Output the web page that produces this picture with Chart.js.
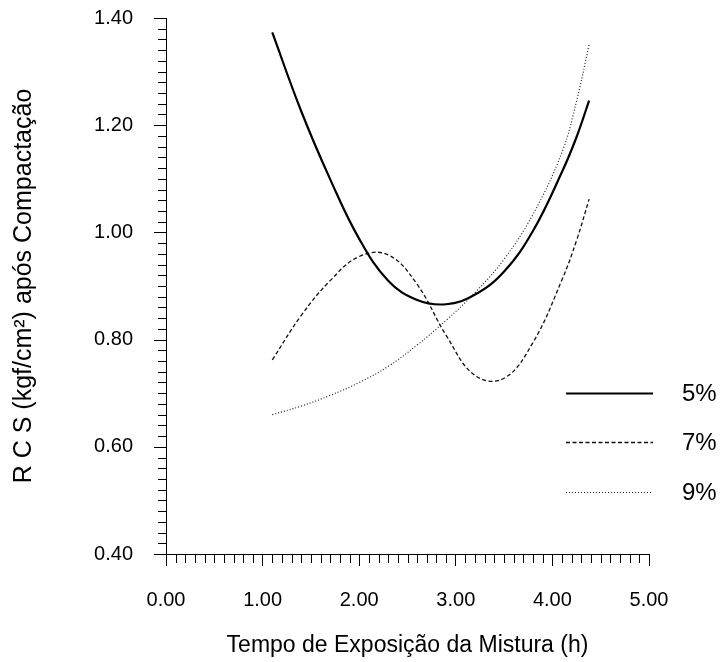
<!DOCTYPE html>
<html>
<head>
<meta charset="utf-8">
<script src="https://cdn.jsdelivr.net/npm/chart.js@4"></script>
<style>
  html, body { margin: 0; padding: 0; background: #fff; }
</style>
</head>
<body>
<canvas id="chart" width="720" height="662"></canvas>
<script>
// exposure time (h) and compressive strength for each lime content
const hours = [1.10, 1.40, 1.70, 2.00, 2.30, 2.60, 2.90, 3.20, 3.50, 3.80, 4.10, 4.25, 4.38];
const rcs5 = [1.373, 1.226, 1.099, 0.988, 0.910, 0.874, 0.866, 0.884, 0.927, 1.003, 1.113, 1.178, 1.246];
const rcs7 = [0.762, 0.845, 0.910, 0.955, 0.958, 0.903, 0.808, 0.733, 0.728, 0.795, 0.912, 0.985, 1.062];
const rcs9 = [0.660, 0.676, 0.696, 0.720, 0.750, 0.790, 0.836, 0.888, 0.950, 1.034, 1.150, 1.245, 1.350];
const seriesLabels = ['5%', '7%', '9%'];

const xTickValues = [0, 1, 2, 3, 4, 5];
const yTickValues = [0.4, 0.6, 0.8, 1.0, 1.2, 1.4];
const xMinorStep = 0.1;
const yMinorStep = 0.02;

const FONT = "'Liberation Sans', Arial, sans-serif";

function toPoints(ys) {
    return hours.map((h, i) => ({ x: h, y: ys[i] }));
}

// x minor ticks, plus all y ticks (the y grid ticks are only used to space the labels)
const axisTicks = {
    id: 'axisTicks',
    afterDraw(chart) {
        const { ctx, scales: { x, y } } = chart;
        ctx.save();
        ctx.strokeStyle = '#000';
        ctx.lineWidth = 1;
        ctx.beginPath();
        for (let v = x.min; v <= x.max + 1e-9; v += xMinorStep) {
            if (Math.abs(v - Math.round(v)) < 1e-6) continue;
            const px = Math.round(x.getPixelForValue(v)) + 0.5;
            ctx.moveTo(px, y.bottom);
            ctx.lineTo(px, y.bottom + 9);
        }
        for (let v = y.min; v <= y.max + 1e-9; v += yMinorStep) {
            const r = v / 0.2;
            const major = Math.abs(r - Math.round(r)) < 1e-6;
            const py = Math.round(y.getPixelForValue(v)) + 0.5;
            ctx.moveTo(x.left - (major ? 12 : 8), py);
            ctx.lineTo(x.left, py);
        }
        ctx.stroke();
        ctx.restore();
    }
};

// legend drawn at the lower right, next to the curves
const sideLegend = {
    id: 'sideLegend',
    afterDraw(chart) {
        const ctx = chart.ctx;
        const rows = [393, 442, 492];
        ctx.save();
        chart.data.datasets.forEach((ds, i) => {
            ctx.beginPath();
            ctx.strokeStyle = ds.borderColor;
            ctx.lineWidth = ds.borderWidth;
            ctx.setLineDash(ds.borderDash || []);
            ctx.moveTo(566, rows[i] + 0.5);
            ctx.lineTo(653, rows[i] + 0.5);
            ctx.stroke();
            ctx.setLineDash([]);
            ctx.fillStyle = '#000';
            ctx.font = '24px ' + FONT;
            ctx.textAlign = 'left';
            ctx.textBaseline = 'middle';
            ctx.fillText(ds.label, 682, rows[i] + 1);
        });
        ctx.restore();
    }
};

new Chart(document.getElementById('chart'), {
    type: 'line',
    data: {
        datasets: [
            {
                label: seriesLabels[0],
                data: toPoints(rcs5),
                borderColor: '#000',
                borderWidth: 2.2,
                pointRadius: 0,
                tension: 0.4
            },
            {
                label: seriesLabels[1],
                data: toPoints(rcs7),
                borderColor: '#111',
                borderWidth: 1.3,
                borderDash: [4, 2.5],
                pointRadius: 0,
                tension: 0.4
            },
            {
                label: seriesLabels[2],
                data: toPoints(rcs9),
                borderColor: '#222',
                borderWidth: 1.2,
                borderDash: [1, 2],
                pointRadius: 0,
                tension: 0.4
            }
        ]
    },
    options: {
        responsive: false,
        animation: false,
        devicePixelRatio: 1,
        layout: { padding: { top: 18, right: 71, bottom: 0, left: 0 } },
        plugins: {
            legend: { display: false },
            tooltip: { enabled: false }
        },
        scales: {
            x: {
                type: 'linear',
                min: 0,
                max: 5,
                afterFit: s => { s.height = 108; },
                afterBuildTicks: s => { s.ticks = xTickValues.map(v => ({ value: v })); },
                border: { display: true, color: '#000', width: 1 },
                grid: { drawOnChartArea: false, drawTicks: true, tickLength: 12, tickColor: '#000' },
                ticks: {
                    color: '#000',
                    padding: 22,
                    maxRotation: 0,
                    font: { family: FONT, size: 20 },
                    callback: v => Number(v).toFixed(2)
                },
                title: {
                    display: true,
                    text: 'Tempo de Exposição da Mistura (h)',
                    color: '#000',
                    font: { family: FONT, size: 23 },
                    padding: { top: 0, bottom: 3 }
                }
            },
            y: {
                type: 'linear',
                min: 0.4,
                max: 1.4,
                afterFit: s => { s.width = 166; },
                afterBuildTicks: s => { s.ticks = yTickValues.map(v => ({ value: v })); },
                border: { display: true, color: '#000', width: 1 },
                grid: { drawOnChartArea: false, drawTicks: true, tickLength: 27, tickColor: 'rgba(0,0,0,0)' },
                ticks: {
                    color: '#000',
                    padding: 6,
                    font: { family: FONT, size: 20 },
                    callback: v => Number(v).toFixed(2)
                },
                title: {
                    display: true,
                    text: 'R C S (kgf/cm²) após Compactação',
                    color: '#000',
                    font: { family: FONT, size: 25 },
                    padding: { top: 9, bottom: 0 }
                }
            }
        }
    },
    plugins: [axisTicks, sideLegend]
});
</script>
</body>
</html>
